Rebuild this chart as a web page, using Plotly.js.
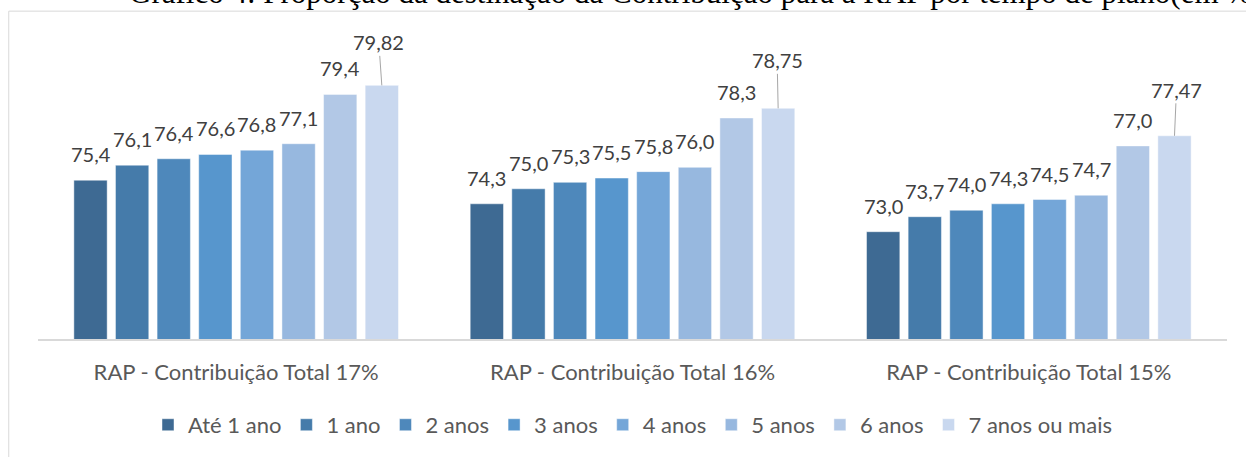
<!DOCTYPE html>
<html>
<head>
<meta charset="utf-8">
<script src="https://cdn.plot.ly/plotly-3.0.1.min.js"></script>
<style>
  html, body { margin: 0; padding: 0; background: #fff; }
  #chart { width: 1246px; height: 457px; }
</style>
</head>
<body>
<div id="chart"></div>
<script>
const groups = ['RAP - Contribuição Total 17%', 'RAP - Contribuição Total 16%', 'RAP - Contribuição Total 15%'];
const seriesNames = ['Até 1 ano', '1 ano', '2 anos', '3 anos', '4 anos', '5 anos', '6 anos', '7 anos ou mais'];
const seriesValues = [
  [75.4, 74.3, 73.0],
  [76.1, 75.0, 73.7],
  [76.4, 75.3, 74.0],
  [76.6, 75.5, 74.3],
  [76.8, 75.8, 74.5],
  [77.1, 76.0, 74.7],
  [79.4, 78.3, 77.0],
  [79.82, 78.75, 77.47]
];
const labelDecimals = [1, 1, 1, 1, 1, 1, 1, 2];
const seriesColors = ['#3E6A93', '#457BAA', '#4E88BB', '#5796CD', '#74A6D8', '#97B8DF', '#B2C8E6', '#C9D8EF'];

// label offsets for the moved labels of the last series (px)
const leaderOffsets = [[-3, -43], [-1, -48], [2, -46]];

const BARGAP = 0.16;
const fmt = (v, d) => v.toFixed(d).replace('.', ',');

const traces = seriesNames.map((name, i) => ({
  type: 'bar',
  name,
  x: groups,
  y: seriesValues[i],
  marker: { color: seriesColors[i], line: { color: 'rgba(255,255,255,0.45)', width: 1 } },
  hoverinfo: 'skip'
}));

const slot = (1 - BARGAP) / seriesNames.length;
const annotations = [];
seriesValues.forEach((vals, i) => {
  vals.forEach((v, g) => {
    const xPos = g + (i - (seriesNames.length - 1) / 2) * slot;
    const base = {
      x: xPos, y: v, xref: 'x', yref: 'y',
      text: fmt(v, labelDecimals[i]),
      font: { family: 'Lato, sans-serif', size: 20, color: '#404040' }
    };
    if (i === seriesNames.length - 1) {
      annotations.push({
        ...base,
        showarrow: true, arrowhead: 0, arrowwidth: 1, arrowcolor: '#a6a6a6',
        standoff: 0, ax: leaderOffsets[g][0], ay: leaderOffsets[g][1]
      });
    } else {
      annotations.push({ ...base, showarrow: false, yanchor: 'bottom', yshift: 12 });
    }
  });
});

annotations.push({
  xref: 'paper', yref: 'paper', x: 0.0748, y: 1.058, xanchor: 'left', yanchor: 'bottom',
  showarrow: false,
  text: 'Gráfico 4: Proporção da destinação da Contribuição para a RAP por tempo de plano(em %)',
  font: { family: 'Liberation Serif, serif', size: 31, color: '#000' }
});

const layout = {
  width: 1246,
  height: 457,
  paper_bgcolor: '#fff',
  plot_bgcolor: 'rgba(0,0,0,0)',
  margin: { l: 38, r: 19, t: 30, b: 117 },
  font: { family: 'Lato, sans-serif', color: '#595959' },
  barmode: 'group',
  bargap: BARGAP,
  bargroupgap: 0.2,
  showlegend: true,
  legend: {
    orientation: 'h', x: 0.5, xanchor: 'center', y: -0.274, yanchor: 'middle',
    font: { size: 22, color: '#595959' }, traceorder: 'normal'
  },
  xaxis: {
    type: 'category',
    showline: true, linecolor: '#d9d9d9', linewidth: 2,
    ticks: 'outside', ticklen: 13, tickcolor: 'rgba(0,0,0,0)',
    tickfont: { size: 22, color: '#595959' },
    fixedrange: true
  },
  yaxis: {
    range: [68, 82.4],
    showgrid: false, zeroline: false, showticklabels: false, showline: false,
    fixedrange: true
  },
  annotations,
  shapes: [{
    type: 'rect', xref: 'paper', yref: 'paper',
    x0: -0.0246, x1: 1.03, y0: -0.5, y1: 1.061,
    line: { color: '#d9d9d9', width: 1 }
  }]
};

Plotly.newPlot('chart', traces, layout, { displayModeBar: false, staticPlot: true });
</script>
</body>
</html>
